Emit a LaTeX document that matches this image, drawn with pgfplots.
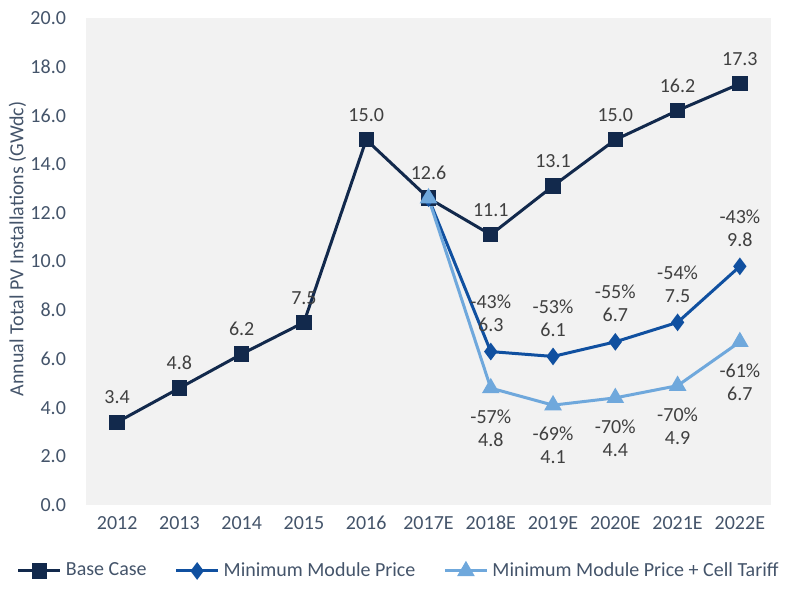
\documentclass[border=0pt]{standalone}
\usepackage{fontspec}
\setmainfont{Carlito}
\usepackage{pgfplots}
\usepackage{pgfplotstable}
\pgfplotsset{compat=1.18}

\definecolor{basec}{RGB}{18,41,76}
\definecolor{minmod}{RGB}{16,80,160}
\definecolor{tariff}{RGB}{111,168,220}
\definecolor{plotbg}{RGB}{242,242,242}
\definecolor{tickc}{RGB}{68,84,106}
\definecolor{labc}{RGB}{64,64,64}

% base case, 2012 .. 2022E
\pgfplotstableread{
x y
0 3.4
1 4.8
2 6.2
3 7.5
4 15.0
5 12.6
6 11.1
7 13.1
8 15.0
9 16.2
10 17.3
}\basecase

% minimum module price, with change against base case
\pgfplotstableread{
x y pct
5 12.6 0
6 6.3 -43
7 6.1 -53
8 6.7 -55
9 7.5 -54
10 9.8 -43
}\minmodule

% minimum module price + cell tariff
\pgfplotstableread{
x y pct
5 12.6 0
6 4.8 -57
7 4.1 -69
8 4.4 -70
9 4.9 -70
10 6.7 -61
}\celltariff

\begin{document}
\begin{tikzpicture}
\begin{axis}[
    scale only axis,
    width=342.5pt, height=243.5pt,
    xmin=-0.5, xmax=10.5,
    ymin=0, ymax=20,
    ytick={0,2,...,20},
    xtick={0,...,10},
    xticklabels={2012,2013,2014,2015,2016,2017E,2018E,2019E,2020E,2021E,2022E},
    axis background/.style={fill=plotbg},
    axis line style={draw=none},
    major tick length=0pt,
    font=\fontsize{10pt}{12pt}\selectfont,
    tick label style={text=tickc},
    /pgf/number format/assume math mode=true,
    yticklabel={\pgfmathprintnumber[fixed,precision=1,zerofill]{\tick}},
    yticklabel style={xshift=-6.5pt},
    xticklabel style={yshift=-2pt},
    ylabel={Annual Total PV Installations (GWdc)},
    ylabel style={text=tickc, anchor=center, at={(axis description cs:-0.1,0.526)}},
    legend style={draw=none, fill=none, legend columns=-1, text=tickc,
        at={(axis description cs:0.458,-0.1355)}, anchor=center,
        /tikz/every even column/.append style={column sep=12pt}},
    legend image code/.code={%
        \draw[mark repeat=2,mark phase=2,#1] plot coordinates {(0pt,0pt) (10.5pt,0pt) (21pt,0pt)};},
    every node near coord/.append style={text=labc, font=\fontsize{10pt}{11.5pt}\selectfont, align=center},
]
\addplot[basec, line width=1.5pt, mark=square*, mark size=3.1pt,
    nodes near coords={\pgfmathprintnumber[fixed,precision=1,zerofill]{\pgfplotspointmeta}},
    nodes near coords align={above}, every node near coord/.append style={yshift=5pt}]
    table[x=x,y=y] {\basecase};
\addlegendentry{Base Case}

\addplot[minmod, line width=1.5pt, mark=diamond*, mark size=3.2pt]
    table[x=x,y=y] {\minmodule};
\addlegendentry{Minimum Module Price}

\addplot[tariff, line width=1.5pt, mark=triangle*, mark size=3.6pt]
    table[x=x,y=y] {\celltariff};
\addlegendentry{Minimum Module Price + Cell Tariff}

% two-line labels, skipping the shared 2017E point
\addplot[draw=none, forget plot, skip coords between index={0}{1},
    visualization depends on={\thisrow{pct} \as \pct},
    nodes near coords={\pgfmathprintnumber[int detect]{\pct}\%\\\pgfmathprintnumber[fixed,precision=1,zerofill]{\pgfplotspointmeta}},
    nodes near coords align={above}, every node near coord/.append style={yshift=6.5pt}]
    table[x=x,y=y] {\minmodule};

\addplot[draw=none, forget plot, skip coords between index={0}{1},
    visualization depends on={\thisrow{pct} \as \pct},
    nodes near coords={\pgfmathprintnumber[int detect]{\pct}\%\\\pgfmathprintnumber[fixed,precision=1,zerofill]{\pgfplotspointmeta}},
    nodes near coords align={below}, every node near coord/.append style={yshift=-7.5pt}]
    table[x=x,y=y] {\celltariff};
\end{axis}
\path (current axis.south west) ++(-43pt,-44pt) rectangle ([shift={(14.5pt,9pt)}]current axis.north east);
\end{tikzpicture}
\end{document}
